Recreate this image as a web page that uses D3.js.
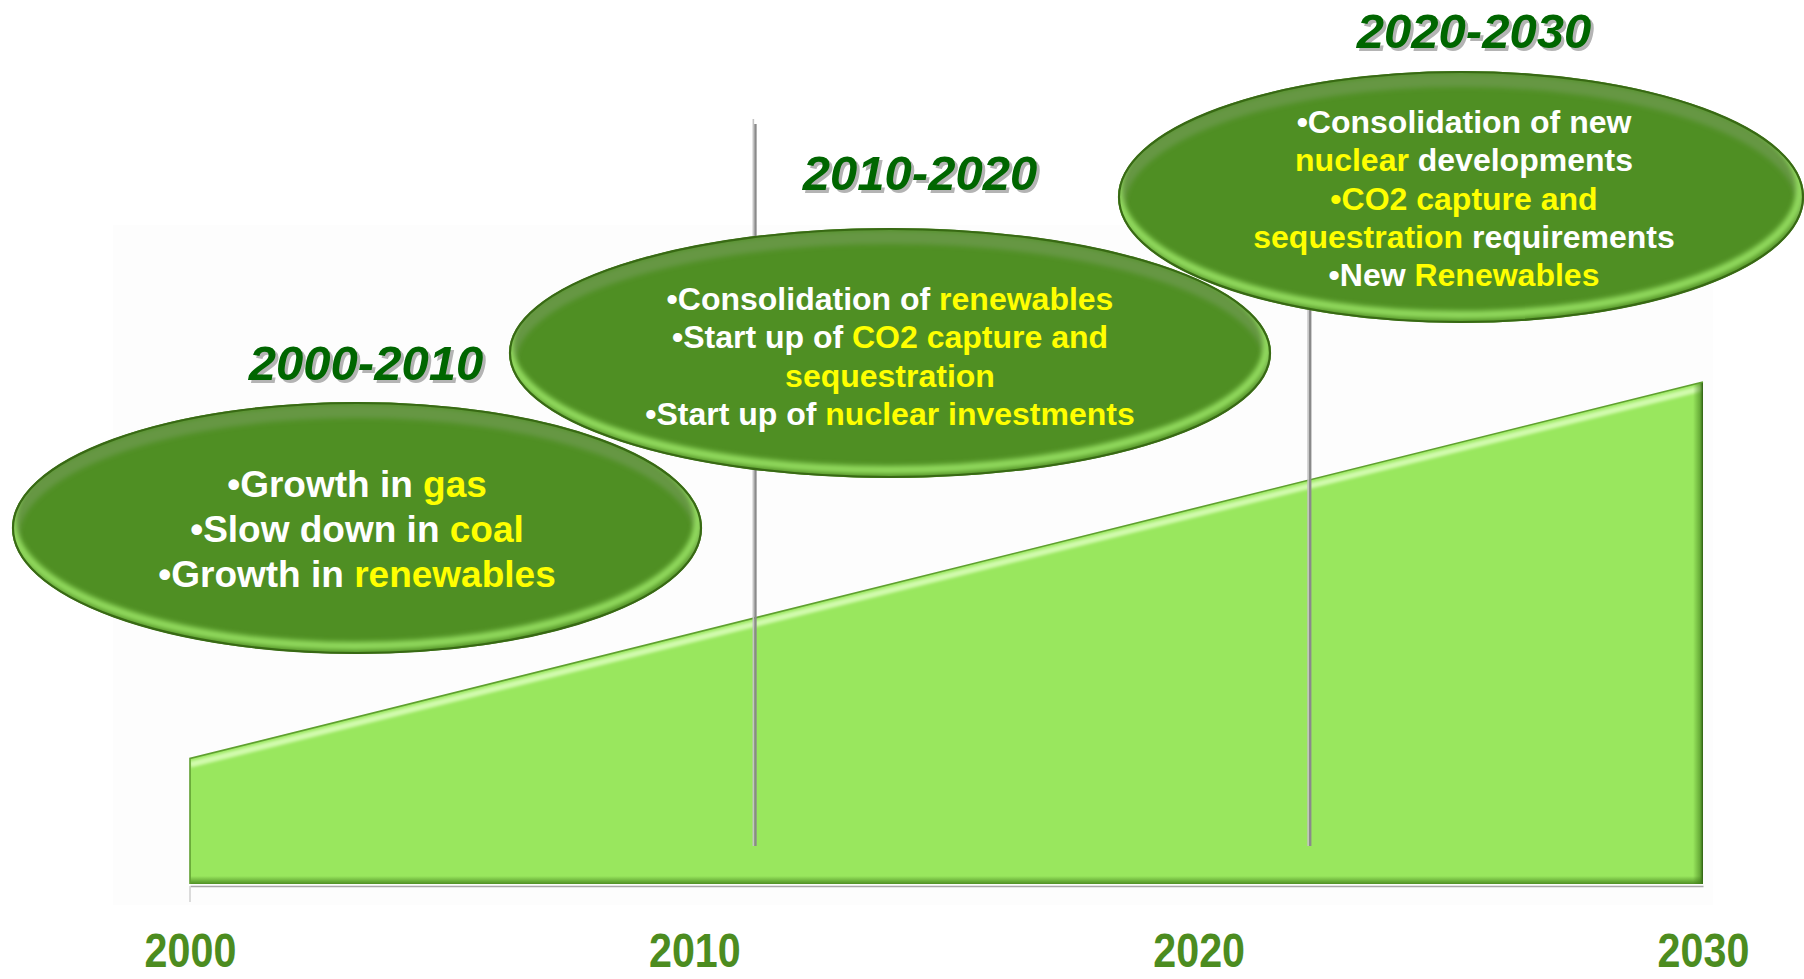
<!DOCTYPE html>
<html>
<head>
<meta charset="utf-8">
<script src="https://cdn.jsdelivr.net/npm/d3@7"></script>
<style>
  html, body { margin: 0; padding: 0; background: #ffffff; }
  svg { display: block; }
</style>
</head>
<body>
<svg id="chart" width="1804" height="979"></svg>
<script>
// ---- data -------------------------------------------------------------
const trendYears  = [2000, 2030];
const trendValues = [25, 100];
const tickYears   = [2000, 2010, 2020, 2030];
const dividerYears = [2011.2, 2022.2];
const periodLabels = ["2000-2010", "2010-2020", "2020-2030"];

// each line is a list of [text, highlighted] pieces
const notes2000 = [
  [["\u2022Growth in ", 0], ["gas", 1]],
  [["\u2022Slow down in ", 0], ["coal", 1]],
  [["\u2022Growth in ", 0], ["renewables", 1]]
];
const notes2010 = [
  [["\u2022Consolidation of ", 0], ["renewables", 1]],
  [["\u2022Start up of ", 0], ["CO2 capture and", 1]],
  [["sequestration", 1]],
  [["\u2022Start up of ", 0], ["nuclear investments", 1]]
];
const notes2020 = [
  [["\u2022Consolidation of new", 0]],
  [["nuclear", 1], [" developments", 0]],
  [["\u2022CO2 capture and", 1]],
  [["sequestration", 1], [" requirements", 0]],
  [["\u2022New ", 0], ["Renewables", 1]]
];
const periodNotes = [notes2000, notes2010, notes2020];

// ---- layout -----------------------------------------------------------
const W = 1804, H = 979;
const bubbles = [
  { cx: 357,  cy: 528, rx: 345, ry: 126, textX: 357,  firstBase: 497, lineGap: 45,   fontSize: 37, titleX: 366,  titleBase: 380 },
  { cx: 890,  cy: 353, rx: 381, ry: 125, textX: 890,  firstBase: 310, lineGap: 38.3, fontSize: 32, titleX: 920,  titleBase: 190 },
  { cx: 1461, cy: 197, rx: 343, ry: 126, textX: 1464, firstBase: 133, lineGap: 38.3, fontSize: 32, titleX: 1474, titleBase: 48 }
];
const dividerTop = 121, dividerBottom = 846;

const colors = {
  areaFill: "#99e75e",
  areaEdge: "#5f9f30",
  areaLight: "#d2fbae",
  areaDark: "#3e7a18",
  bubble: "#4f8f23",
  bubbleEdge: "#386914",
  bubbleRim: "#93dc5e",
  bubbleTop: "#9aa890",
  white: "#ffffff",
  yellow: "#ffff00",
  title: "#006600",
  titleShadow: "#b4b4b4",
  tick: "#4c8c20"
};

const svg = d3.select("#chart");
const defs = svg.append("defs");

const x = d3.scaleLinear().domain([2000, 2030]).range([190, 1703]);
const y = d3.scaleLinear().domain([0, 100]).range([884, 382]);

// faint backdrop panel behind the plot
svg.append("rect")
  .attr("x", 113).attr("y", 225).attr("width", 1600).attr("height", 680)
  .attr("fill", "#fdfdfd");

defs.append("filter").attr("id", "soft")
  .append("feGaussianBlur").attr("stdDeviation", 1.6);
defs.append("filter").attr("id", "softer")
  .attr("x", "-5%").attr("y", "-10%").attr("width", "110%").attr("height", "120%")
  .append("feGaussianBlur").attr("stdDeviation", 2.6);

// ---- growth wedge -----------------------------------------------------
const trend = trendYears.map((yr, i) => ({ year: yr, value: trendValues[i] }));
const area = d3.area().x(d => x(d.year)).y0(y(0)).y1(d => y(d.value));

defs.append("clipPath").attr("id", "wedgeClip")
  .append("path").attr("d", area(trend));

// gradients for the bevelled rim of the wedge
const gRight = defs.append("linearGradient").attr("id", "gRight")
  .attr("x1", 0).attr("x2", 1).attr("y1", 0).attr("y2", 0);
gRight.append("stop").attr("offset", 0).attr("stop-color", colors.areaDark).attr("stop-opacity", 0);
gRight.append("stop").attr("offset", 0.7).attr("stop-color", colors.areaDark).attr("stop-opacity", 0.55);
gRight.append("stop").attr("offset", 1).attr("stop-color", "#2c5c10").attr("stop-opacity", 1);
const gBottom = defs.append("linearGradient").attr("id", "gBottom")
  .attr("x1", 0).attr("x2", 0).attr("y1", 0).attr("y2", 1);
gBottom.append("stop").attr("offset", 0).attr("stop-color", colors.areaDark).attr("stop-opacity", 0);
gBottom.append("stop").attr("offset", 1).attr("stop-color", colors.areaDark).attr("stop-opacity", 0.8);

const wedge = svg.append("g");
wedge.append("path")
  .attr("d", area(trend))
  .attr("fill", colors.areaFill);

const rim = wedge.append("g").attr("clip-path", "url(#wedgeClip)");
const x0 = x(trendYears[0]), x1 = x(trendYears[1]);
const yT0 = y(trendValues[0]), yT1 = y(trendValues[1]), yB = y(0);
// light band under the sloped top edge
rim.append("line")
  .attr("x1", x0).attr("y1", yT0 + 6).attr("x2", x1).attr("y2", yT1 + 6)
  .attr("stroke", colors.areaLight).attr("stroke-width", 6)
  .attr("filter", "url(#soft)");
// dark band on the right edge
rim.append("rect")
  .attr("x", x1 - 10).attr("y", yT1).attr("width", 10).attr("height", yB - yT1)
  .attr("fill", "url(#gRight)");
// dark band along the bottom edge
rim.append("rect")
  .attr("x", x0).attr("y", yB - 8).attr("width", x1 - x0).attr("height", 8)
  .attr("fill", "url(#gBottom)");
// thin outline on top and left
wedge.append("path")
  .attr("d", d3.line()([[x0, yB], [x0, yT0], [x1, yT1]]))
  .attr("fill", "none").attr("stroke", colors.areaEdge).attr("stroke-width", 1.6);

// ---- axis -------------------------------------------------------------
const axis = d3.axisBottom(x)
  .tickValues(tickYears)
  .tickFormat(d3.format("d"))
  .tickSize(0)
  .tickSizeOuter(0);
const gAxis = svg.append("g")
  .attr("transform", `translate(0,${y(0) + 2})`)
  .call(axis);
gAxis.select(".domain").attr("stroke", "#a8a8a8").attr("stroke-width", 1.5);
gAxis.selectAll(".tick text")
  .attr("y", 81).attr("dy", 0)
  .attr("transform", "scale(0.86,1)")
  .attr("fill", colors.tick)
  .style("font-family", "'Liberation Sans', Arial, Helvetica, sans-serif")
  .style("font-weight", "bold")
  .style("font-size", "48px");
svg.append("line")
  .attr("x1", x(2000)).attr("x2", x(2000))
  .attr("y1", y(0) + 2).attr("y2", y(0) + 18)
  .attr("stroke", "#cfcfcf").attr("stroke-width", 1.5);

// ---- period dividers --------------------------------------------------
const divs = svg.append("g");
dividerYears.forEach(yr => {
  divs.append("line")
    .attr("x1", x(yr) - 1.5).attr("x2", x(yr) - 1.5)
    .attr("y1", dividerTop - 2).attr("y2", dividerBottom)
    .attr("stroke", "#c4c4c4").attr("stroke-width", 1.6);
  divs.append("line")
    .attr("x1", x(yr) + 0.6).attr("x2", x(yr) + 0.6)
    .attr("y1", dividerTop + 3).attr("y2", dividerBottom)
    .attr("stroke", "#8a8a8a").attr("stroke-width", 2.4);
});

// ---- bubbles ----------------------------------------------------------
const textFont = "'Liberation Sans', Arial, Helvetica, sans-serif";

bubbles.forEach((b, i) => {
  const clipId = "bubbleClip" + i;
  defs.append("clipPath").attr("id", clipId)
    .append("ellipse")
    .attr("cx", b.cx).attr("cy", b.cy).attr("rx", b.rx).attr("ry", b.ry);

  const g = svg.append("g");
  g.append("ellipse")
    .attr("cx", b.cx).attr("cy", b.cy).attr("rx", b.rx).attr("ry", b.ry)
    .attr("fill", colors.bubble);

  const inner = g.append("g").attr("clip-path", `url(#${clipId})`);
  // greyish sheen along the upper rim
  inner.append("ellipse")
    .attr("cx", b.cx).attr("cy", b.cy + 9).attr("rx", b.rx).attr("ry", b.ry)
    .attr("fill", "none").attr("stroke", colors.bubbleTop)
    .attr("stroke-opacity", 0.3).attr("stroke-width", 14)
    .attr("filter", "url(#softer)");
  // bright crescent along the lower rim
  inner.append("ellipse")
    .attr("cx", b.cx - 2).attr("cy", b.cy - 8).attr("rx", b.rx - 2).attr("ry", b.ry)
    .attr("fill", "none").attr("stroke", colors.bubbleRim)
    .attr("stroke-width", 8)
    .attr("filter", "url(#softer)");
  // dark outer edge
  g.append("ellipse")
    .attr("cx", b.cx).attr("cy", b.cy).attr("rx", b.rx - 1).attr("ry", b.ry - 1)
    .attr("fill", "none")
    .attr("stroke", colors.bubbleEdge).attr("stroke-width", 2.2);

  const t = g.append("text")
    .attr("text-anchor", "middle")
    .style("font-family", textFont)
    .style("font-weight", "bold")
    .style("font-size", b.fontSize + "px");
  periodNotes[i].forEach((line, li) => {
    line.forEach((piece, pi) => {
      const ts = t.append("tspan")
        .text(piece[0])
        .attr("fill", piece[1] ? colors.yellow : colors.white);
      if (pi === 0) ts.attr("x", b.textX).attr("y", b.firstBase + li * b.lineGap);
    });
  });

  // period heading with a grey drop shadow
  const titleStyle = sel => sel
    .attr("text-anchor", "middle")
    .style("font-family", textFont)
    .style("font-weight", "bold")
    .style("font-style", "italic")
    .style("font-size", "49px")
    .text(periodLabels[i]);
  svg.append("text").call(titleStyle)
    .attr("x", b.titleX + 3).attr("y", b.titleBase + 3)
    .attr("fill", colors.titleShadow);
  svg.append("text").call(titleStyle)
    .attr("x", b.titleX).attr("y", b.titleBase)
    .attr("fill", colors.title);
});
</script>
</body>
</html>
